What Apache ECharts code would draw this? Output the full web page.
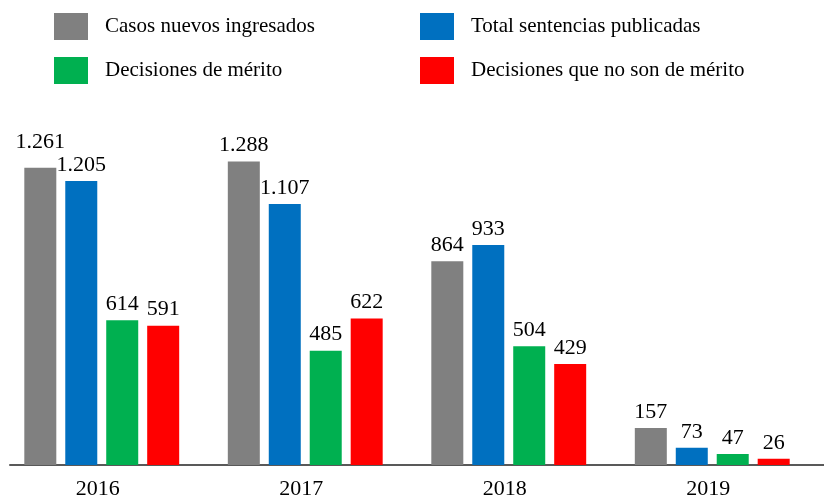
<!DOCTYPE html>
<html>
<head>
<meta charset="utf-8">
<script src="https://cdn.jsdelivr.net/npm/echarts@6/dist/echarts.min.js"></script>
<style>
  html, body { margin: 0; padding: 0; background: #fff; }
  #main { width: 824px; height: 501px; }
</style>
</head>
<body>
<div id="main"></div>
<script>
// datos del gráfico
var years = ["2016", "2017", "2018", "2019"];
var seriesNames = [
  "Casos nuevos ingresados",
  "Total sentencias publicadas",
  "Decisiones de mérito",
  "Decisiones que no son de mérito"
];
var casosNuevos = [1261, 1288, 864, 157];
var totalSentencias = [1205, 1107, 933, 73];
var decisionesMerito = [614, 485, 504, 47];
var decisionesNoMerito = [591, 622, 429, 26];

var colors = ["#808080", "#0070C0", "#00B050", "#FF0000"];
var values = [casosNuevos, totalSentencias, decisionesMerito, decisionesNoMerito];
var font = "'Liberation Serif', 'DejaVu Serif', serif";

// formato con punto de miles: 1.261
function fmt(v) {
  return String(v).replace(/\B(?=(\d{3})+(?!\d))/g, ".");
}

var myChart = echarts.init(document.getElementById("main"));

var series = values.map(function (arr, i) {
  return {
    name: seriesNames[i],
    type: "bar",
    xAxisIndex: 0,
    yAxisIndex: 0,
    barWidth: 32,
    barGap: "28%",
    itemStyle: { color: colors[i] },
    data: arr.map(function (v, j) {
      var d = { value: v };
      // la etiqueta 1.261 queda más arriba en el original
      if (i === 0 && j === 0) d.label = { distance: 15 };
      return d;
    }),
    label: {
      show: true,
      position: "top",
      distance: 5,
      color: "#000",
      fontFamily: font,
      fontSize: 22,
      formatter: function (p) { return fmt(p.value); }
    }
  };
});

var legendCommon = {
  orient: "vertical",
  top: 13,
  padding: 0,
  itemWidth: 34,
  itemHeight: 27,
  itemGap: 17,
  icon: "rect",
  textStyle: { fontFamily: font, fontSize: 21, color: "#000", padding: [0, 0, 0, 12] }
};

var option = {
  animation: false,
  backgroundColor: "#fff",
  legend: [
    Object.assign({ left: 54, data: [seriesNames[0], seriesNames[2]] }, legendCommon),
    Object.assign({ left: 420, data: [seriesNames[1], seriesNames[3]] }, legendCommon)
  ],
  grid: [
    { left: -2, right: 10, top: 135, bottom: 36 },
    { left: 10, right: 0, top: 135, bottom: 36 }
  ],
  xAxis: [
    {
      gridIndex: 0,
      type: "category",
      data: years,
      axisLine: { show: false },
      axisTick: { show: false },
      axisLabel: {
        color: "#000",
        fontFamily: font,
        fontSize: 22,
        margin: 13,
        padding: [0, 8, 0, 0]
      }
    },
    {
      gridIndex: 1,
      type: "category",
      data: years,
      axisLine: { show: true, lineStyle: { color: "#595959", width: 2 } },
      axisTick: { show: false },
      axisLabel: { show: false }
    }
  ],
  yAxis: [
    { gridIndex: 0, type: "value", min: 0, max: 1400, show: false, splitLine: { show: false } },
    { gridIndex: 1, type: "value", min: 0, max: 1400, show: false, splitLine: { show: false } }
  ],
  series: series
};

myChart.setOption(option);
</script>
</body>
</html>
